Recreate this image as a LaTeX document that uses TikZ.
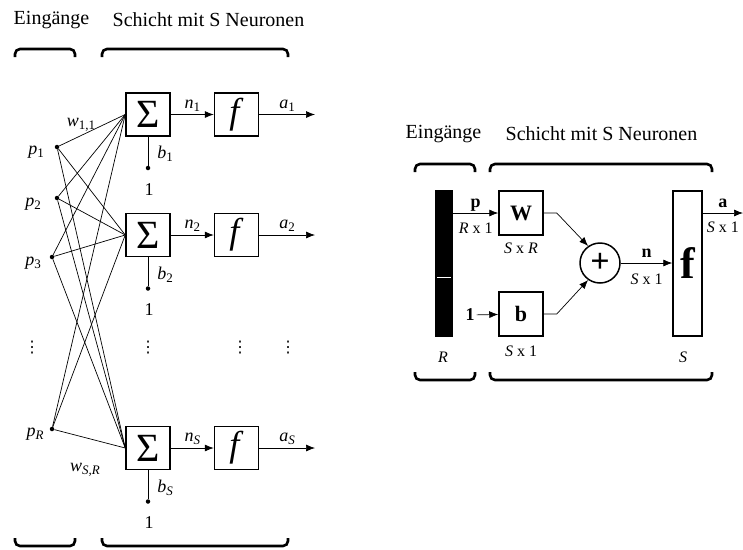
\documentclass[tikz,border=0pt]{standalone}
\usepackage{fontspec}
\setmainfont{Liberation Serif}
\newfontfamily\symfont{DejaVu Sans}
\usetikzlibrary{arrows.meta,
    positioning,
    calc}

\newcommand{\vsub}[2]{\textit{#1}\raisebox{-3pt}{\fontsize{13}{13}\selectfont #2}}

\begin{document}
\begin{tikzpicture} [x = 1pt, y = -1pt,
    > = {Latex[length=9pt, width=7pt]},
    every node/.style = {font = \fontsize{18}{20}\selectfont, inner sep = 0pt},
    dims/.style = {font = \fontsize{16}{18}\selectfont},
    title/.style = {font = \fontsize{20}{24}\selectfont},
    sumbox/.style = {draw, line width = 1.5pt, minimum width = 44pt, minimum height = 43pt},
    blockbox/.style = {draw, line width = 1.5pt, minimum size = 44pt,
        font = \fontsize{22}{24}\selectfont},
    inpt/.style = {circle, fill, minimum size = 4.5pt},
    brace/.style = {line width = 2.6pt, rounded corners = 5pt},
    wire/.style = {line width = 0.7pt}]
\useasboundingbox (0,0) rectangle (743,549);

% left: network with single neurons
\node[title] (inL) at (51.5,20) {Eing\"ange};
\node[title] (layL) at (208.5,20) {Schicht mit S Neuronen};
\draw[brace] (15,57) -- (15,49) -- (75,49) -- (75,57);
\draw[brace] (102,57) -- (102,49) -- (288,49) -- (288,57);
\draw[brace] (15,538) -- (15,546) -- (75,546) -- (75,538);
\draw[brace] (102,538) -- (102,546) -- (288,546) -- (288,538);

\foreach \i/\y/\s in {1/114.5/1, 2/235/2, 3/448/\textit{S}} {
    \node[sumbox] (s\i) at (148,\y) {\fontsize{40}{40}\selectfont Σ};
    \node[sumbox] (f\i) at (236.5,\y) {\fontsize{36}{36}\selectfont\textit{f}};
    \coordinate (o\i) at (315,\y);
    \draw[->, wire] (s\i) -- node[above=3pt] {\vsub{n}{\s}} (f\i);
    \draw[->, wire] (f\i) -- node[above=3pt] {\vsub{a}{\s}} (o\i);
    \node[inpt] (bd\i) at (148,{\y+53.5}) {};
    \draw[wire] (s\i) -- (bd\i);
    \node (bl\i) at (165,{\y+39.5}) {\vsub{b}{\s}};
    \node (one\i) at (149,{\y+75}) {1};
}

\foreach \j/\x/\y/\lx/\ly/\s in {1/57/147/36/152/1, 2/57/198/33/204/2,
    3/52/257/33/263/3, 4/52/429/35/434/\textit{R}} {
    \node[inpt] (p\j) at (\x,\y) {};
    \node (pl\j) at (\lx,\ly) {\vsub{p}{\s}};
    \foreach \i in {1,2,3}
        \draw[wire] (p\j) -- (s\i.west);
}

\node (w11) at (81,125) {\vsub{w}{1,1}};
\node (wSR) at (85,470) {\vsub{w}{\textit{S,R}}};

\foreach \x in {32,148,240,288}
    \node[font = \fontsize{16}{16}\symfont] (vd\x) at (\x,348) {⋮};

% right: layer in matrix form
\node[title] (inR) at (443.5,134) {Eing\"ange};
\node[title] (layR) at (601.5,134) {Schicht mit S Neuronen};
\draw[brace] (415,172) -- (415,164) -- (475,164) -- (475,172);
\draw[brace] (490,172) -- (490,164) -- (712,164) -- (712,172);
\draw[brace] (415,372) -- (415,380) -- (475,380) -- (475,372);
\draw[brace] (490,372) -- (490,380) -- (712,380) -- (712,372);

\node[fill, minimum width = 18pt, minimum height = 147pt] (vec) at (444,263.5) {};
\draw[white, line width = 1pt] (437,277) -- (451,277);
\node[dims] (dimR) at (443,357) {\textit{R}};

\node[blockbox] (W) at (521,213) {\textbf{W}};
\node[dims, below=7pt of W] (dimW) {\textit{S} x \textit{R}};
\node[blockbox] (B) at (521,314) {\textbf{b}};
\node[dims, below=9pt of B] (dimB) {\textit{S} x 1};
\node (one) at (470,315) {\textbf{1}};

\node[circle, draw, line width = 1.5pt, minimum size = 40pt,
    font = \fontsize{34}{34}\selectfont\bfseries] (add) at (600,263) {+};
\node[draw, line width = 1.5pt, minimum width = 29pt, minimum height = 145pt,
    font = \fontsize{44}{44}\selectfont\bfseries] (F) at (687.5,263.5) {f};
\node[dims] (dimS) at (683,357) {\textit{S}};
\coordinate (aout) at (743,213);

\draw[->, wire] (vec.east |- W.west) -- node[above=1.5pt] {\textbf{p}}
    node[dims, below=10pt] {\textit{R} x 1} (W.west);
\draw[->, wire, shorten <=2pt] (one) -- (B);
\draw[->, wire] (W.east) -- ++(13,0) -- (add.125);
\draw[->, wire] (B.east) -- ++(13,0) -- (add.235);
\draw[->, wire] (add.east) -- node[above=5pt] {\textbf{n}}
    node[dims, below=11pt] {\textit{S} x 1} (add.east -| F.west);
\draw[->, wire] (F.east |- W.east) -- node[above=5pt] {\textbf{a}}
    node[dims, below=9pt] {\textit{S} x 1} (aout);
\end{tikzpicture}
\end{document}
